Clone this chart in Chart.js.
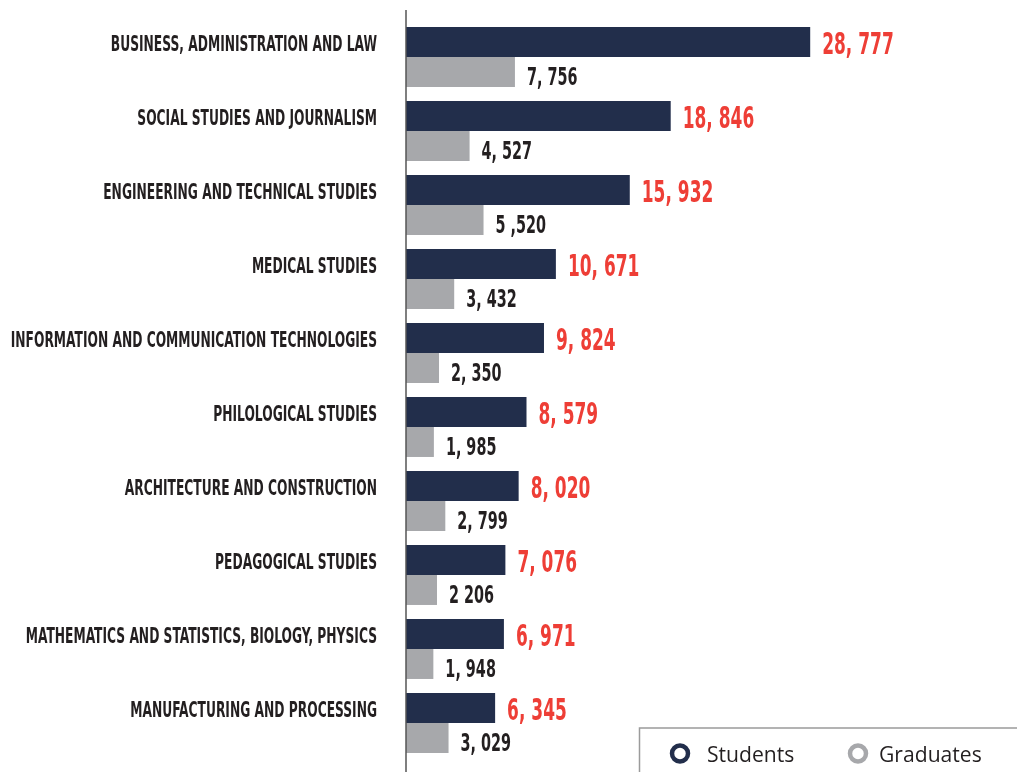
<!DOCTYPE html>
<html>
<head>
<meta charset="utf-8">
<script src="https://cdn.jsdelivr.net/npm/chart.js@4/dist/chart.umd.min.js"></script>
<style>
  html, body { margin: 0; padding: 0; background: #fff; }
  #wrap { width: 1017px; height: 772px; }
</style>
</head>
<body>
<div id="wrap"><canvas id="c" width="1017" height="772"></canvas></div>
<script>
// Data
const categories = [
  'BUSINESS, ADMINISTRATION AND LAW',
  'SOCIAL STUDIES AND JOURNALISM',
  'ENGINEERING AND TECHNICAL STUDIES',
  'MEDICAL STUDIES',
  'INFORMATION AND COMMUNICATION TECHNOLOGIES',
  'PHILOLOGICAL STUDIES',
  'ARCHITECTURE AND CONSTRUCTION',
  'PEDAGOGICAL STUDIES',
  'MATHEMATICS AND STATISTICS, BIOLOGY, PHYSICS',
  'MANUFACTURING AND PROCESSING'
];
const students = [28777, 18846, 15932, 10671, 9824, 8579, 8020, 7076, 6971, 6345];
const graduates = [7756, 4527, 5520, 3432, 2350, 1985, 2799, 2206, 1948, 3029];
// value labels as printed (spacing quirks kept)
const studentLabels = ['28, 777', '18, 846', '15, 932', '10, 671', '9, 824', '8, 579', '8, 020', '7, 076', '6, 971', '6, 345'];
const graduateLabels = ['7, 756', '4, 527', '5 ,520', '3, 432', '2, 350', '1, 985', '2, 799', '2 206', '1, 948', '3, 029'];

const NAVY = '#222e4b';
const GREY = '#a7a8ab';
const RED = '#ee3e36';
const INK = '#231f20';
const CONDENSED = '"DejaVu Sans Condensed", "DejaVu Sans", sans-serif';

// draw text squeezed horizontally (the original uses a tall condensed face)
function squeeze(ctx, text, x, y, sx, align) {
  ctx.save();
  ctx.translate(x, y);
  ctx.scale(sx, 1);
  ctx.textAlign = align;
  ctx.textBaseline = 'alphabetic';
  ctx.fillText(text, 0, 0);
  ctx.restore();
}

const labelsPlugin = {
  id: 'labels',
  afterDatasetsDraw(chart) {
    const ctx = chart.ctx;
    const sMeta = chart.getDatasetMeta(0);
    const gMeta = chart.getDatasetMeta(1);

    ctx.save();
    // category names, aligned with the students bar
    ctx.fillStyle = INK;
    ctx.font = 'bold 22px ' + CONDENSED;
    sMeta.data.forEach((bar, i) => {
      squeeze(ctx, categories[i], chart.chartArea.left - 29, bar.y + 8.5, 0.62, 'right');
    });

    // students values
    ctx.fillStyle = RED;
    ctx.font = 'bold 30px ' + CONDENSED;
    sMeta.data.forEach((bar, i) => {
      squeeze(ctx, studentLabels[i], bar.x + 12, bar.y + 12, 0.63, 'left');
    });

    // graduates values
    ctx.fillStyle = INK;
    ctx.font = 'bold 25px ' + CONDENSED;
    gMeta.data.forEach((bar, i) => {
      squeeze(ctx, graduateLabels[i], bar.x + 12, bar.y + 13, 0.64, 'left');
    });

    // vertical axis line
    ctx.strokeStyle = '#555';
    ctx.lineWidth = 1.5;
    ctx.beginPath();
    ctx.moveTo(chart.chartArea.left, 10);
    ctx.lineTo(chart.chartArea.left, chart.height);
    ctx.stroke();

    // legend box (open on right and bottom)
    ctx.strokeStyle = '#9b9b9b';
    ctx.lineWidth = 1.5;
    ctx.beginPath();
    ctx.moveTo(639.5, chart.height);
    ctx.lineTo(639.5, 728);
    ctx.lineTo(chart.width, 728);
    ctx.stroke();

    const items = [
      { text: chart.data.datasets[0].label, color: NAVY, cx: 680, tx: 707 },
      { text: chart.data.datasets[1].label, color: GREY, cx: 858, tx: 879 }
    ];
    ctx.font = '22px "Open Sans", sans-serif';
    items.forEach(it => {
      ctx.strokeStyle = it.color;
      ctx.lineWidth = 4.5;
      ctx.beginPath();
      ctx.arc(it.cx, 753.5, 8, 0, Math.PI * 2);
      ctx.stroke();
      ctx.fillStyle = INK;
      squeeze(ctx, it.text, it.tx, 762, 0.96, 'left');
    });
    ctx.restore();
  }
};

new Chart(document.getElementById('c'), {
  type: 'bar',
  data: {
    labels: categories,
    datasets: [
      { label: 'Students', data: students, backgroundColor: NAVY },
      { label: 'Graduates', data: graduates, backgroundColor: GREY }
    ]
  },
  options: {
    indexAxis: 'y',
    responsive: false,
    animation: false,
    layout: { padding: { left: 406, right: 0, top: 20, bottom: 12 } },
    datasets: { bar: { categoryPercentage: 0.81, barPercentage: 1.0, borderWidth: 0 } },
    scales: {
      x: { display: false, min: 0, max: 43500 },
      y: { display: false }
    },
    plugins: {
      legend: { display: false },
      tooltip: { enabled: false }
    }
  },
  plugins: [labelsPlugin]
});
</script>
</body>
</html>
